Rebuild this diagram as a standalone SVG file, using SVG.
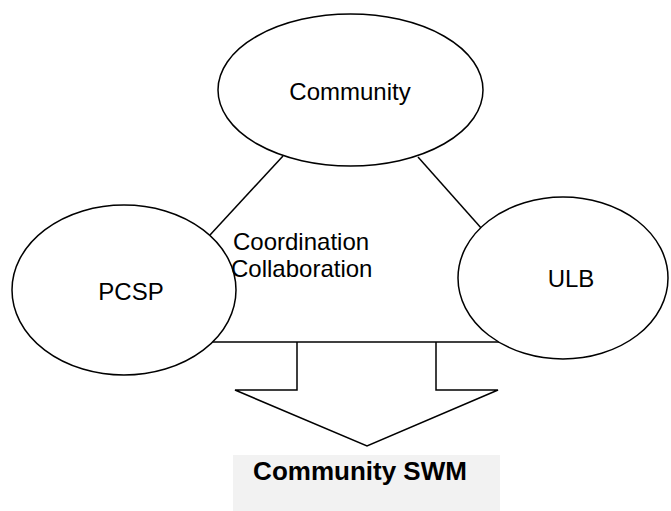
<svg xmlns="http://www.w3.org/2000/svg" width="671" height="511" viewBox="0 0 671 511">
  <style>
    .node { fill: #ffffff; stroke: #000000; stroke-width: 1.5; }
    .link { fill: none; stroke: #000000; stroke-width: 1.5; }
    .label { font-family: "Liberation Sans", Arial, sans-serif; font-size: 24px; fill: #000000; }
    .title { font-family: "Liberation Sans", Arial, sans-serif; font-size: 26px; font-weight: bold; fill: #000000; }
  </style>
  <rect width="671" height="511" fill="#ffffff"/>

  <!-- connectors between the three stakeholders and the arrow to the outcome -->
  <g id="connectors">
    <line class="link" x1="210" y1="235" x2="283" y2="156"/>
    <line class="link" x1="418" y1="157" x2="482" y2="229"/>
    <line class="link" x1="212" y1="342" x2="500" y2="342"/>
    <polyline class="link" points="297,342 297,390 235,390 367,446 498,390 436,390 436,342"/>
  </g>

  <g id="community">
    <ellipse class="node" cx="350.5" cy="90" rx="132.5" ry="76"/>
    <text class="label" x="350" y="100" text-anchor="middle">Community</text>
  </g>

  <g id="pcsp">
    <ellipse class="node" cx="124" cy="290" rx="112" ry="85"/>
    <text class="label" x="131" y="300" text-anchor="middle">PCSP</text>
  </g>

  <g id="ulb">
    <ellipse class="node" cx="563" cy="278" rx="105" ry="81"/>
    <text class="label" x="571" y="287" text-anchor="middle">ULB</text>
  </g>

  <g id="relation">
    <text class="label" x="233" y="250">Coordination</text>
    <text class="label" x="231" y="277">Collaboration</text>
  </g>

  <g id="community-swm">
    <rect x="233" y="455" width="267" height="56" fill="#f2f2f2"/>
    <text class="title" x="360" y="480" text-anchor="middle">Community SWM</text>
  </g>
</svg>
